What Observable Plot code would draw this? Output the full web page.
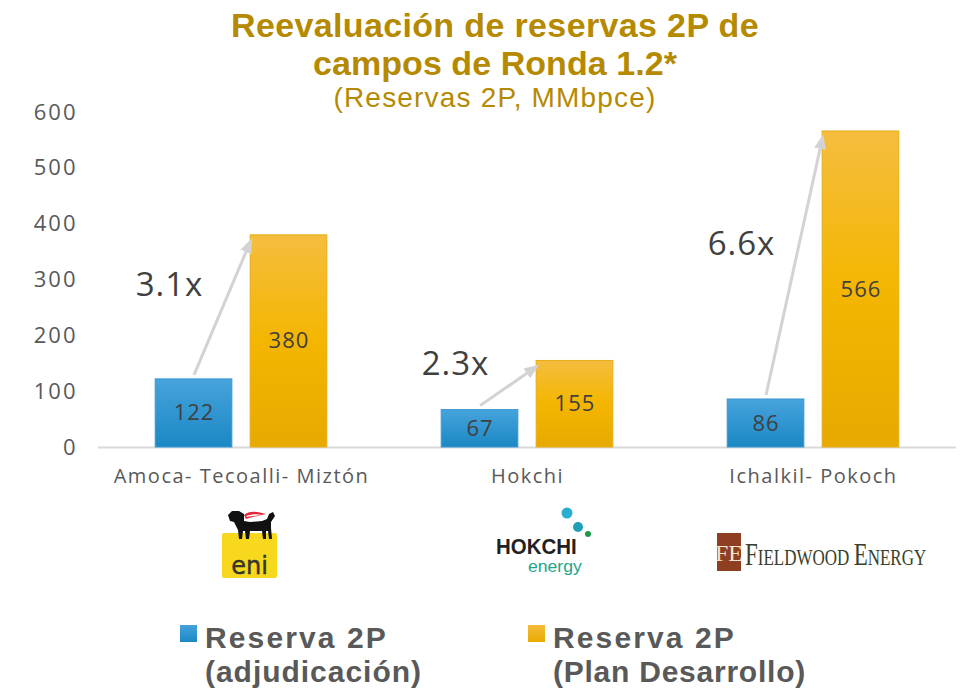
<!DOCTYPE html>
<html><head><meta charset="utf-8">
<script src="https://cdn.jsdelivr.net/npm/d3@7"></script>
<script src="https://cdn.jsdelivr.net/npm/@observablehq/plot@0.6"></script>
<style>
body{margin:0;background:#fff;font-family:"Open Sans",sans-serif;}
#wrap{position:relative;width:973px;height:700px;overflow:hidden;background:#fff;}
.title{position:absolute;left:0;width:990px;text-align:center;color:#b58a00;white-space:nowrap;font-family:"Liberation Sans",sans-serif;}
.tb{font-weight:700;font-size:34px;line-height:38px;height:38px;}
#t2{top:83px;font-weight:400;font-size:28px;line-height:30px;height:30px;}
#chart{position:absolute;left:0;top:95px;}
#logos{position:absolute;left:0;top:500px;}
.leg{position:absolute;font-family:"Liberation Sans",sans-serif;font-weight:700;font-size:30px;line-height:34px;height:34px;color:#595959;white-space:nowrap;}
.sw{position:absolute;top:625px;width:17px;height:17px;}
</style></head>
<body>
<div id="wrap">
  <div class="title tb" style="top:6px;"><span id="t1a">Reevaluación de reservas 2P de</span></div>
  <div class="title tb" style="top:44px;"><span id="t1b">campos de Ronda 1.2*</span></div>
  <div class="title" id="t2"><span id="t2s">(Reservas 2P, MMbpce)</span></div>
  <div id="chart"></div>
  <svg id="logos" width="973" height="100" xmlns="http://www.w3.org/2000/svg">
    <!-- eni -->
    <rect x="222" y="33" width="55" height="45" rx="2" fill="#f7d81e"/>
    <path d="M228,15 L232,11 L239,11 L244,14 L244,21 L250,22 L262,21 L267,19 L269,14 L273,12 L275,16 L271,22 L271,28 L272,39 L269,39 L268,31 L266,31 L266,39 L263,39 L262,31 L250,31 L249,39 L246,39 L245,31 L243,31 L242,39 L239,39 L238,30 L236,26 L234,22 L230,21 Z" fill="#111"/>
    <path d="M244,15 C250,10 258,12 266,14 C258,16 252,17 246,19 Z" fill="#e3263a"/>
    <path d="M246,16 C252,14 257,14 262,15 C256,16 251,16 247,17 Z" fill="#fff"/>
    <text x="249.5" y="74" text-anchor="middle" font-family="DejaVu Sans" font-size="24" fill="#3a3a2a" stroke="#222" stroke-width="0.4">eni</text>
    <!-- Hokchi -->
    <circle cx="567" cy="13" r="5.5" fill="#2aaed0"/>
    <circle cx="578" cy="27" r="5" fill="#1f9fb8"/>
    <circle cx="588" cy="34" r="3" fill="#1c9a4a"/>
    <g transform="translate(496,54) scale(0.93,1)"><text x="0" y="0" font-family="Liberation Sans" font-weight="700" font-size="22" fill="#222">HOKCHI</text></g>
    <g transform="translate(528,72) scale(1.1,1)"><text x="0" y="0" font-family="Liberation Sans" font-size="16" fill="#1fa48a">energy</text></g>
    <!-- Fieldwood -->
    <rect x="717" y="33" width="24" height="38" fill="#8e3f22"/>
    <text x="729" y="61" text-anchor="middle" font-family="Liberation Serif" font-size="24" fill="#f1e3cf">FE</text>
    <g transform="translate(745,65) scale(0.74,1)"><text x="0" y="0" font-family="Liberation Serif" fill="#3a3f2e"><tspan font-size="31">F</tspan><tspan font-size="23">IELDWOOD </tspan><tspan font-size="31">E</tspan><tspan font-size="23">NERGY</tspan></text></g>
  </svg>
  <div class="sw" style="left:180px;background:linear-gradient(#45a2db,#1b89c5);"></div>
  <div class="leg" style="left:205px;top:621px;"><span id="l1a"></span></div>
  <div class="leg" style="left:205px;top:655px;"><span id="l1b"></span></div>
  <div class="sw" style="left:528px;background:linear-gradient(#f5bc3c,#e8a900);"></div>
  <div class="leg" style="left:553px;top:621px;"><span id="l2a"></span></div>
  <div class="leg" style="left:553px;top:655px;"><span id="l2b"></span></div>
</div>
<script>
// ---- data ----
const fields = ["Amoca- Tecoalli- Miztón", "Hokchi", "Ichalkil- Pokoch"];
const reservaAdjudicacion = [122, 67, 86];
const reservaPlanDesarrollo = [380, 155, 566];
const multiplos = ["3.1x", "2.3x", "6.6x"];
const yTicks = [0, 100, 200, 300, 400, 500, 600];
const seriesLine1 = ["Reserva 2P", "Reserva 2P"];
const seriesLine2 = ["(adjudicación)", "(Plan Desarrollo)"];

document.getElementById("l1a").textContent = seriesLine1[0];
document.getElementById("l1b").textContent = seriesLine2[0];
document.getElementById("l2a").textContent = seriesLine1[1];
document.getElementById("l2b").textContent = seriesLine2[1];

// stretch HTML text to the reference's widths with letter-spacing
function fitWidth(id, target) {
  const el = document.getElementById(id);
  el.style.letterSpacing = "0px";
  const w = el.getBoundingClientRect().width;
  const n = el.textContent.length;
  el.style.letterSpacing = ((target - w) / n).toFixed(2) + "px";
}
fitWidth("t1a", 528); fitWidth("t1b", 364); fitWidth("t2s", 323);
fitWidth("l1a", 183); fitWidth("l1b", 217); fitWidth("l2a", 183); fitWidth("l2b", 253);

const rows = fields.map((f, i) => ({
  field: f, i, blue: reservaAdjudicacion[i], orange: reservaPlanDesarrollo[i], mult: multiplos[i]
}));

// layout within each category band (fractions of the band)
const barW = 0.268, blueOff = 0.2, orangeOff = 0.532;
const bCenter = d => d.i + blueOff + barW / 2;
const oCenter = d => d.i + orangeOff + barW / 2;
const aStartY = d => d.blue + 8, aEndY = d => d.orange - 10;

const chart = Plot.plot({
  width: 973, height: 400,
  marginLeft: 98, marginRight: 17, marginTop: 17, marginBottom: 48,
  style: {fontFamily: "Open Sans", fontSize: "22px", color: "#595959", background: "transparent"},
  x: {domain: [0, 3], axis: null},
  y: {domain: [0, 600], ticks: yTicks, tickSize: 0, tickPadding: 21, label: null, tickFormat: d => String(d)},
  marks: [
    Plot.ruleY([0], {stroke: "#d9d9d9", strokeWidth: 2}),
    Plot.rectY(rows, {x1: d => d.i + blueOff, x2: d => d.i + blueOff + barW, y: "blue", fill: "url(#gBlue)", stroke: "#3b97d0", strokeWidth: 1}),
    Plot.rectY(rows, {x1: d => d.i + orangeOff, x2: d => d.i + orangeOff + barW, y: "orange", fill: "url(#gOrange)", stroke: "#e7ad12", strokeWidth: 1}),
    Plot.text(rows, {x: bCenter, y: d => d.blue / 2, text: d => String(d.blue), fontSize: 22, fill: "#404040"}),
    Plot.text(rows, {x: oCenter, y: d => d.orange / 2, text: d => String(d.orange), fontSize: 22, fill: "#404040"}),
    Plot.link(rows, {x1: bCenter, y1: aStartY, x2: d => d.i + orangeOff, y2: aEndY, stroke: "#d3d3d3", strokeWidth: 3}),
    Plot.text(rows, {x: d => (bCenter(d) + d.i + orangeOff) / 2, y: d => (aStartY(d) + aEndY(d)) / 2, dx: -19, dy: -22,
      text: "mult", textAnchor: "end", fontSize: 33, fill: "#404040"}),
    Plot.text(rows, {x: d => d.i + 0.5, y: 0, dy: 29, text: "field", fontSize: 20, fill: "#595959"})
  ]
});

const NS = "http://www.w3.org/2000/svg";
const defs = document.createElementNS(NS, "defs");
defs.innerHTML = `
<linearGradient id="gBlue" x1="0" y1="0" x2="0" y2="1"><stop offset="0" stop-color="#47a3dc"/><stop offset="1" stop-color="#1a88c4"/></linearGradient>
<linearGradient id="gOrange" x1="0" y1="0" x2="0" y2="1"><stop offset="0" stop-color="#f5bd3f"/><stop offset="0.5" stop-color="#f4b600"/><stop offset="1" stop-color="#e8a900"/></linearGradient>
<marker id="ahead" viewBox="0 0 10 8" refX="8" refY="4" markerWidth="5" markerHeight="4" markerUnits="strokeWidth" orient="auto">
<path d="M0,0L10,4L0,8Z" fill="#d3d3d3"/></marker>`;
chart.insertBefore(defs, chart.firstChild);
chart.querySelectorAll('g[aria-label="link"] path').forEach(p => p.setAttribute("marker-end", "url(#ahead)"));
const textGroups = chart.querySelectorAll('g[aria-label="text"]');
if (textGroups[0]) textGroups[0].setAttribute("letter-spacing", "1");
if (textGroups[1]) textGroups[1].setAttribute("letter-spacing", "1");
if (textGroups[2]) textGroups[2].setAttribute("letter-spacing", "1");
if (textGroups[3]) textGroups[3].setAttribute("letter-spacing", "1.5");
const yLab = chart.querySelector('g[aria-label="y-axis tick label"]');
if (yLab) yLab.setAttribute("letter-spacing", "2");
document.getElementById("chart").appendChild(chart);
</script>
</body></html>
